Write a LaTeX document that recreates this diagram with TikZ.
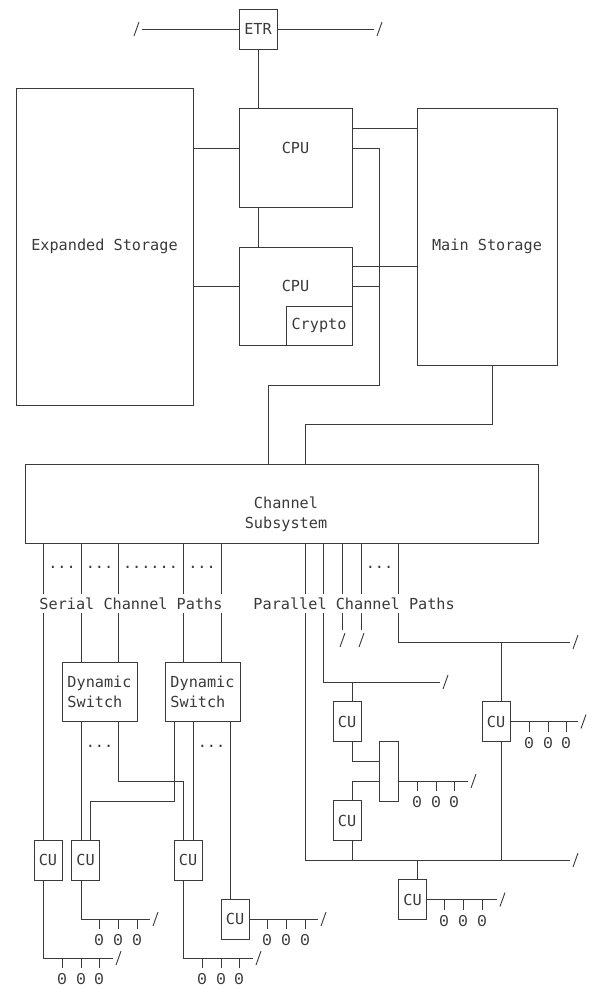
\documentclass[tikz,border=0pt]{standalone}
\usepackage{fontspec}
\setmonofont{DejaVu Sans Mono}
\newfontfamily\devfont{Liberation Mono}
\usetikzlibrary{positioning}
\definecolor{diagink}{HTML}{3A3A3A}

\newcommand{\diagfont}{\ttfamily\fontsize{15.2}{20}\selectfont}
% slash at a free line end, #2 = centre of the slash seen from the end
\newcommand{\linebrk}[2]{\draw (#1) ++(#2) ++(-2.5,7) -- ++(5,-14);}
% ticks and devices hanging below a device line
\newcommand{\devrow}[3]{\foreach \x in {#2} {\draw (\x,#1) -- ++(0,10);
    \node[dev] (#3\x) at (\x,#1+26.5) {0};}}

\begin{document}
\begin{tikzpicture}[
    x=1pt,y=-1pt,line width=.9pt,color=diagink,
    box/.style={draw,inner sep=0pt,font=\diagfont},
    cubox/.style={box,minimum width=28pt,minimum height=40pt},
    lbl/.style={font=\diagfont,inner sep=0pt},
    gaplbl/.style={lbl,fill=white,inner ysep=4pt,anchor=west},
    dev/.style={font=\devfont\fontsize{16.5}{20}\selectfont,inner sep=0pt,anchor=base},
    dotrow/.style={font=\diagfont,inner sep=0pt,anchor=base}
  ]
  \useasboundingbox (0,0) rectangle (592,988);

  % processors and storage
  \node[box,minimum width=38pt,minimum height=40pt] (etr) at (258,29) {ETR};
  \node[box,minimum width=113pt,minimum height=99pt,
    label={[lbl,yshift=10pt]center:CPU}] (cpuA) at (295.5,157.5) {};
  \node[box,minimum width=113pt,minimum height=98pt,
    label={[lbl,yshift=10pt]center:CPU}] (cpuB) at (295.5,296) {};
  \node[box,minimum width=66pt,minimum height=39pt] (crypto) at (319,325.5) {Crypto};
  \node[box,minimum width=177pt,minimum height=317pt] (es) at (104.5,246.5) {Expanded Storage};
  \node[box,minimum width=140pt,minimum height=257pt,
    label={[lbl,yshift=-9.5pt]center:Main Storage}] (ms) at (487,236.5) {};
  \node[box,minimum width=513pt,minimum height=79pt,
    label={[lbl,align=center,xshift=4.5pt,yshift=-10.5pt]center:Channel\\Subsystem}]
    (css) at (281.5,503.5) {};

  % switches and control units
  \node[box,minimum width=75pt,minimum height=59pt,align=left] (dsA) at (99.5,691.5) {Dynamic\\Switch};
  \node[box,minimum width=75pt,minimum height=59pt,align=left] (dsB) at (202.5,691.5) {Dynamic\\Switch};
  \node[cubox] (cuA) at (48,860) {CU};
  \node[cubox] (cuB) at (85.5,860) {CU};
  \node[cubox] (cuC) at (188,860) {CU};
  \node[cubox] (cuD) at (235,919) {CU};
  \node[cubox] (cuE) at (347,721.5) {CU};
  \node[cubox] (cuF) at (347,820.5) {CU};
  \node[cubox] (cuG) at (496,721.5) {CU};
  \node[cubox] (cuH) at (412.5,899.5) {CU};
  \node[box,minimum width=19pt,minimum height=60pt] (mux) at (388.5,771) {};

  % top connections
  \coordinate (etrW) at (142,29);
  \coordinate (etrE) at (374,29);
  \draw (etrW) -- (etr.west) (etr.east) -- (etrE);
  \linebrk{etrW}{-5.5,0}
  \linebrk{etrE}{5.5,0}
  \draw (etr.south) -- (etr.south |- cpuA.north);
  \draw (etr.south |- cpuA.south) -- (etr.south |- cpuB.north);
  \draw (es.east |- 0,148) -- (cpuA.west |- 0,148);
  \draw (es.east |- 0,286) -- (cpuB.west |- 0,286);
  \draw (cpuA.east |- 0,128) -- (ms.west |- 0,128);
  \draw (cpuB.east |- 0,266) -- (ms.west |- 0,266);
  \draw (cpuB.east |- 0,286) -- (379,286);
  \draw (cpuA.east |- 0,148) -| (379,385) -| (css.north -| 268,0);
  \draw (ms.south -| 492,0) |- (305,424) -- (css.north -| 305,0);

  % serial channel paths
  \draw (css.south -| 43,0) -- (cuA.north -| 43,0);
  \foreach \x in {81,118} \draw (css.south -| \x,0) -- (dsA.north -| \x,0);
  \foreach \x in {183,221} \draw (css.south -| \x,0) -- (dsB.north -| \x,0);
  \draw (dsA.south -| 81,0) -- (cuB.north -| 81,0);
  \draw (dsA.south -| 118,0) |- (183,781) -- (cuC.north -| 183,0);
  \draw (dsB.south -| 174,0) |- (90,801) -- (cuB.north -| 90,0);
  \draw (dsB.south -| 193,0) -- (cuC.north -| 193,0);
  \draw (dsB.south -| 230,0) -- (cuD.north -| 230,0);

  \coordinate (endA) at (113,958);
  \coordinate (endB) at (150,919);
  \coordinate (endC) at (253,958);
  \coordinate (endD) at (318,919);
  \draw (cuA.south -| 43,0) |- (endA);
  \draw (cuB.south -| 81,0) |- (endB);
  \draw (cuC.south -| 183,0) |- (endC);
  \draw (cuD.east) -- (endD);
  \linebrk{endA}{5.5,0}
  \linebrk{endB}{5.5,0}
  \linebrk{endC}{5.5,0}
  \linebrk{endD}{5.5,0}
  \devrow{958}{62,81,99}{devA}
  \devrow{919}{99,118,137}{devB}
  \devrow{958}{202,221,239}{devC}
  \devrow{919}{267,286,305}{devD}

  % parallel channel paths
  \coordinate (busE) at (570,860);
  \coordinate (endE) at (440,682);
  \coordinate (endF) at (468,781);
  \coordinate (endG) at (342,630);
  \coordinate (endH) at (361,630);
  \coordinate (endI) at (570,642);
  \coordinate (endJ) at (578,721.5);
  \coordinate (endK) at (497,899.5);
  \draw (css.south -| 305,0) |- (busE);
  \draw (css.south -| 323,0) |- (endE);
  \draw (css.south -| endG) -- (endG);
  \draw (css.south -| endH) -- (endH);
  \draw (css.south -| 398,0) |- (endI);
  \draw (352,682) -- (cuE.north -| 352,0);
  \draw (cuE.south -| 352,0) |- (mux.west |- 0,761);
  \draw (cuF.north -| 352,0) |- (mux.west |- 0,781);
  \draw (cuF.south -| 352,0) -- (352,860);
  \draw (mux.east |- 0,781) -- (endF);
  \draw (501,642) -- (cuG.north -| 501,0);
  \draw (cuG.south -| 501,0) -- (501,860);
  \draw (cuG.east) -- (endJ);
  \draw (417,860) -- (cuH.north -| 417,0);
  \draw (cuH.east) -- (endK);
  \linebrk{busE}{5.5,0}
  \linebrk{endE}{5.5,0}
  \linebrk{endF}{5.5,0}
  \linebrk{endG}{0.5,10}
  \linebrk{endH}{0.5,10}
  \linebrk{endI}{5.5,0}
  \linebrk{endJ}{5.5,0}
  \linebrk{endK}{5.5,0}
  \devrow{781}{417,436,454}{devF}
  \devrow{721.5}{529,548,566}{devJ}
  \devrow{899.5}{444,463,482}{devK}

  % dots and path labels
  \node[dotrow] (dotsA) at (62,568.5) {...};
  \node[dotrow] (dotsB) at (99.5,568.5) {...};
  \node[dotrow] (dotsC) at (150.5,568.5) {......};
  \node[dotrow] (dotsD) at (202,568.5) {...};
  \node[dotrow] (dotsE) at (379.5,568.5) {...};
  \node[dotrow] (dotsF) at (99.5,747.5) {...};
  \node[dotrow] (dotsG) at (211.5,747.5) {...};
  \node[gaplbl] (serial) at (39,603.5) {Serial Channel Paths};
  \node[gaplbl] (parallel) at (253,603.5) {Parallel Channel Paths};
\end{tikzpicture}
\end{document}
